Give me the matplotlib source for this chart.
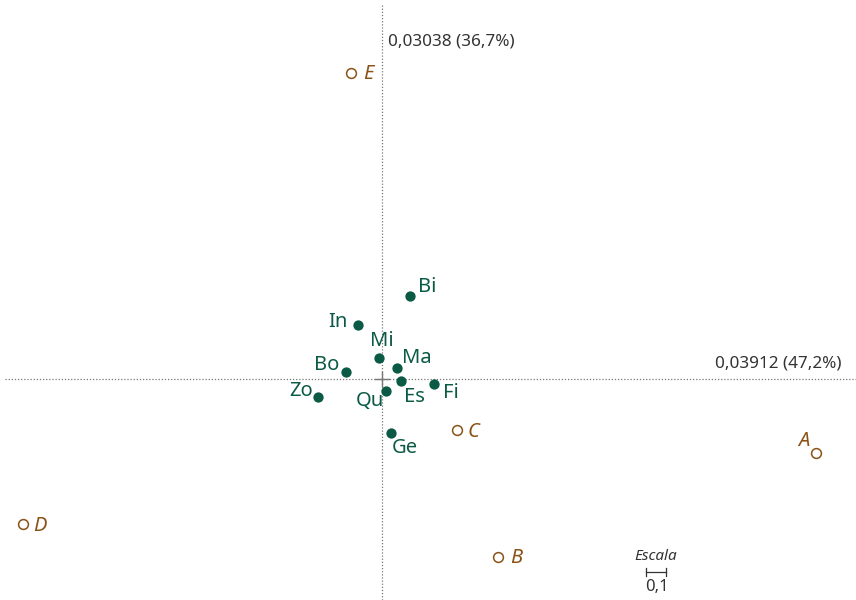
import matplotlib
matplotlib.use("Agg")
import matplotlib.pyplot as plt

# Row profiles (disciplines)
row_names = ["Bi", "In", "Mi", "Ma", "Bo", "Es", "Fi", "Qu", "Zo", "Ge"]
row_x = [0.14, -0.12, -0.015, 0.075, -0.18, 0.095, 0.26, 0.02, -0.32, 0.045]
row_y = [0.415, 0.27, 0.105, 0.055, 0.035, -0.01, -0.025, -0.06, -0.09, -0.27]

# Column profiles
col_names = ["A", "B", "C", "D", "E"]
col_x = [2.17, 0.58, 0.375, -1.795, -0.155]
col_y = [-0.37, -0.89, -0.255, -0.725, 1.53]

axis1_label = "0,03912 (47,2%)"
axis2_label = "0,03038 (36,7%)"
scale_len = 0.1
scale_label = "0,1"

GREEN = "#0b5a45"
BROWN = "#8a5216"
GRAY = "#777777"
TXT = "#333333"
FONT = "Noto Sans"

fig = plt.figure(figsize=(8.56, 6.0), dpi=100)
ax = fig.add_axes([0, 0, 1, 1])
ax.set_xlim(-1.91, 2.37)
ax.set_ylim(-1.105, 1.895)
ax.axis("off")

# principal axes
ax.axhline(0, xmin=0.006, xmax=1, color=GRAY, lw=0.9, ls=(0, (1, 1.5)))
ax.axvline(0, ymin=0, ymax=0.992, color=GRAY, lw=0.9, ls=(0, (1, 1.5)))
ax.plot([-0.035, 0.035], [0, 0], color=GRAY, lw=1)
ax.plot([0, 0], [-0.035, 0.035], color=GRAY, lw=1)

ax.text(2.30, 0.08, axis1_label, ha="right", va="center", fontsize=12.3,
        color=TXT, family=FONT)
ax.text(0.03, 1.685, axis2_label, ha="left", va="center", fontsize=12.3,
        color=TXT, family=FONT)

# row points
ax.scatter(row_x, row_y, s=55, color=GREEN, zorder=3, linewidths=0)
row_off = {
    "Bi": (12.2, 6.5),
    "In": (-14.4, 2.2),
    "Mi": (2.2, 12.2),
    "Ma": (14.4, 7.2),
    "Bo": (-13.7, 5.0),
    "Es": (9.4, -11.5),
    "Fi": (12.2, -6.5),
    "Qu": (-11.5, -7.2),
    "Zo": (-12.2, 4.3),
    "Ge": (10.0, -10.8),
}
for n, x, y in zip(row_names, row_x, row_y):
    dx, dy = row_off[n]
    ax.annotate(n, (x, y), xytext=(dx, dy), textcoords="offset points",
                ha="center", va="center", fontsize=14.5, color=GREEN,
                family=FONT)

# column points
ax.scatter(col_x, col_y, s=50, facecolors="white", edgecolors=BROWN,
           linewidths=1.1, zorder=3)
col_off = {
    "A": (-8.6, 8.6),
    "B": (13.0, -0.7),
    "C": (12.2, -1.4),
    "D": (12.2, -1.4),
    "E": (12.2, -0.7),
}
for n, x, y in zip(col_names, col_x, col_y):
    dx, dy = col_off[n]
    ax.annotate(n, (x, y), xytext=(dx, dy), textcoords="offset points",
                ha="center", va="center", fontsize=14.5, color=BROWN,
                family=FONT, style="italic")

# scale bar
sx0, sy = 1.32, -0.965
ax.plot([sx0, sx0 + scale_len], [sy, sy], color=TXT, lw=0.9)
for xx in (sx0, sx0 + scale_len):
    ax.plot([xx, xx], [sy - 0.02, sy + 0.02], color=TXT, lw=0.9)
ax.text(sx0 + scale_len / 2, sy + 0.075, "Escala", ha="center", va="center",
        fontsize=11, style="italic", color=TXT, family=FONT)
ax.text(sx0 + scale_len / 2 + 0.005, sy - 0.075, scale_label, ha="center",
        va="center", fontsize=12, color=TXT, family=FONT)

fig.savefig("out.png", dpi=100)
